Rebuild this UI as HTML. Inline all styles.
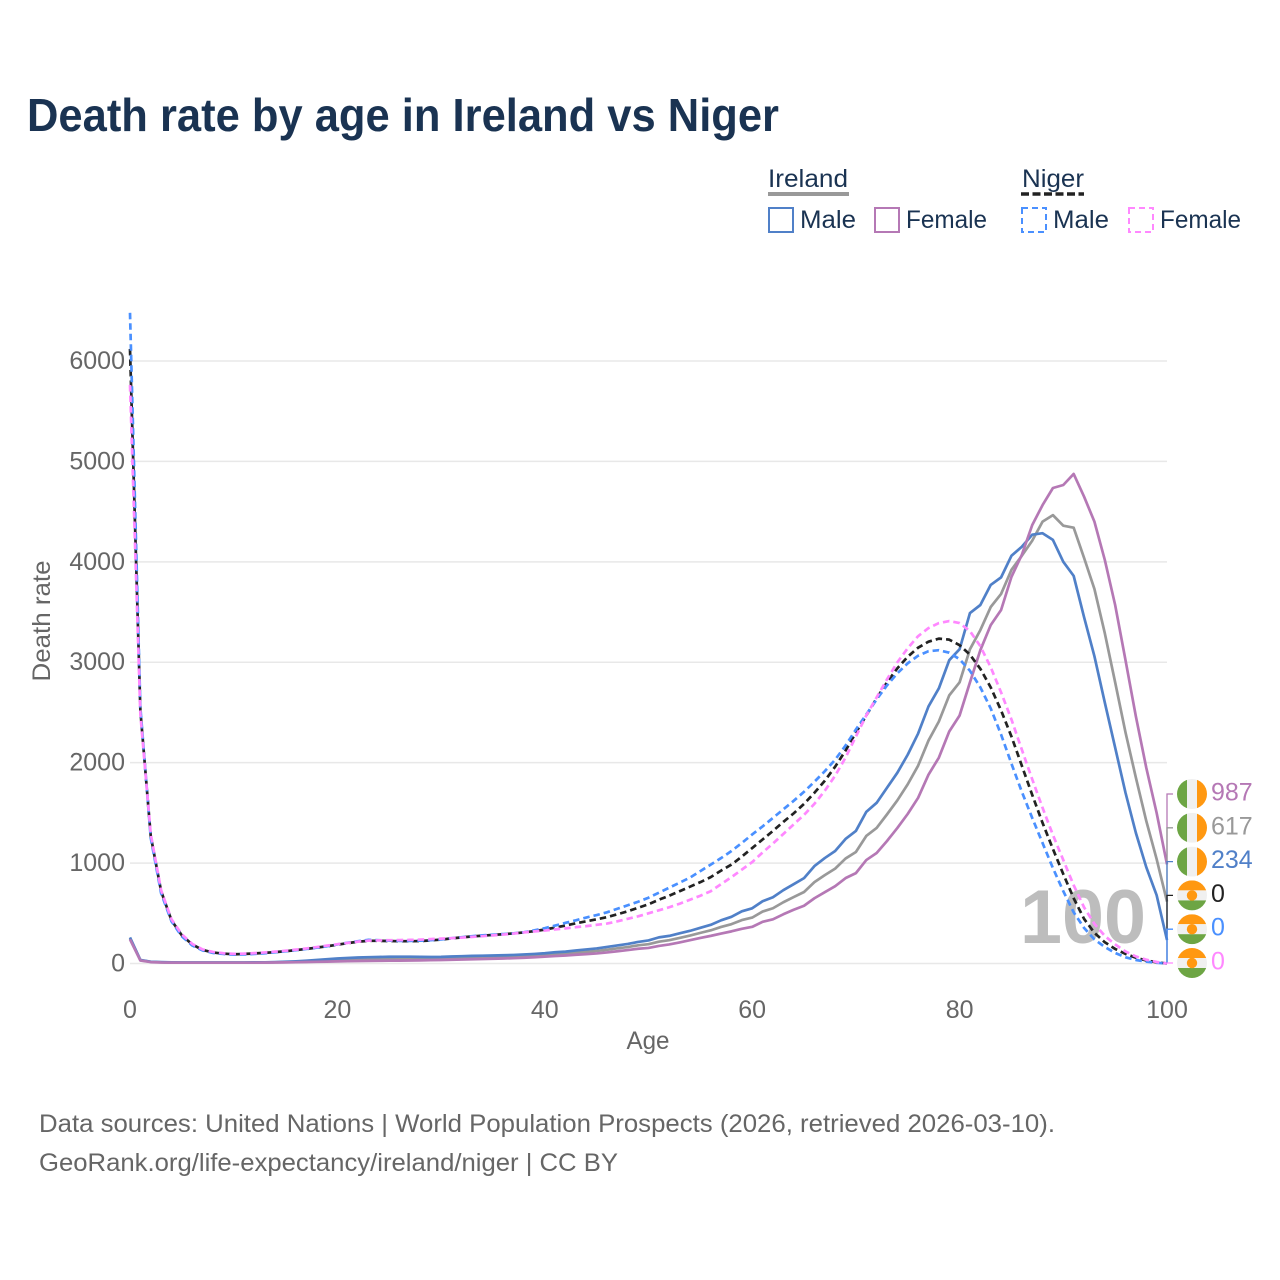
<!DOCTYPE html>
<html>
<head>
<meta charset="utf-8">
<title>Death rate by age in Ireland vs Niger</title>
<style>
html,body{margin:0;padding:0;background:#fff}
svg{display:block}
text{font-family:"Liberation Sans",sans-serif}
</style>
</head>
<body>
<svg id="chart" width="1280" height="1280" viewBox="0 0 1280 1280" xmlns="http://www.w3.org/2000/svg">
  <text x="27" y="131" font-size="46" font-weight="700" fill="#1a3352" textLength="752" lengthAdjust="spacingAndGlyphs">Death rate by age in Ireland vs Niger</text>

  <g font-size="25" fill="#1a3352">
    <text x="768" y="187" textLength="80" lengthAdjust="spacingAndGlyphs">Ireland</text>
    <rect x="768" y="192" width="81" height="4" fill="#999"/>
    <text x="1022" y="187" textLength="62" lengthAdjust="spacingAndGlyphs">Niger</text>
    <line x1="1021" x2="1084" y1="194" y2="194" stroke="#222" stroke-width="3.5" stroke-dasharray="8 3.5"/>

    <rect x="769" y="208" width="24" height="24" fill="none" stroke="#5080c8" stroke-width="2"/>
    <text x="800" y="228" textLength="56" lengthAdjust="spacingAndGlyphs">Male</text>
    <rect x="875" y="208" width="24" height="24" fill="none" stroke="#b578b5" stroke-width="2"/>
    <text x="906" y="228" textLength="81" lengthAdjust="spacingAndGlyphs">Female</text>
    <rect x="1022" y="208" width="24" height="24" fill="none" stroke="#4a90ff" stroke-width="2" stroke-dasharray="6 4"/>
    <text x="1053" y="228" textLength="56" lengthAdjust="spacingAndGlyphs">Male</text>
    <rect x="1129" y="208" width="24" height="24" fill="none" stroke="#ff88ff" stroke-width="2" stroke-dasharray="6 4"/>
    <text x="1160" y="228" textLength="81" lengthAdjust="spacingAndGlyphs">Female</text>
  </g>

  <g id="grid"></g>
  <text x="1020" y="943" font-size="76" font-weight="700" fill="#bdbdbd" textLength="126" lengthAdjust="spacingAndGlyphs">100</text>
  <g id="series"></g>
  <g id="xticks"></g>
  <g id="yticks"></g>
  <g id="ends"></g>

  <text x="648" y="1049" font-size="25" fill="#666" text-anchor="middle" textLength="43" lengthAdjust="spacingAndGlyphs">Age</text>
  <text transform="translate(50 621) rotate(-90)" font-size="25" fill="#666" text-anchor="middle" textLength="121" lengthAdjust="spacingAndGlyphs">Death rate</text>

  <text x="39" y="1132" font-size="25" fill="#666" textLength="1016" lengthAdjust="spacingAndGlyphs">Data sources: United Nations | World Population Prospects (2026, retrieved 2026-03-10).</text>
  <text x="39" y="1171" font-size="25" fill="#666" textLength="579" lengthAdjust="spacingAndGlyphs">GeoRank.org/life-expectancy/ireland/niger | CC BY</text>
</svg>
<script>
const xTickLabels = [0, 20, 40, 60, 80, 100];
const yTickLabels = [0, 1000, 2000, 3000, 4000, 5000, 6000];

const irelandAll = [250,33,16,12,10,9,9,9,9,9,9,9,10,10,12,14,17,21,26,30,35,39,42,44,46,47,48,49,48,49,50,53,56,59,61,63,66,69,73,78,85,93,99,108,116,125,137,151,164,181,192,217,232,255,278,305,330,364,392,432,457,517,550,610,662,712,810,880,945,1045,1110,1270,1350,1485,1625,1785,1970,2220,2410,2670,2800,3130,3320,3550,3680,3920,4060,4210,4400,4465,4360,4340,4040,3730,3290,2800,2300,1850,1420,1040,617];
const irelandMale = [260,35,18,14,11,10,10,10,10,10,10,10,11,12,14,18,22,28,35,42,50,55,60,63,65,67,68,68,66,65,66,70,73,76,78,80,82,85,90,95,102,112,118,130,140,150,165,180,195,215,230,260,275,300,325,355,385,430,465,520,550,620,660,730,790,850,970,1050,1120,1240,1320,1510,1600,1750,1900,2080,2290,2560,2740,3020,3130,3490,3570,3770,3845,4060,4150,4270,4285,4218,4000,3860,3450,3060,2600,2150,1700,1300,960,680,234];
const irelandFemale = [240,30,14,10,9,8,8,8,8,8,8,8,8,9,10,11,13,15,17,19,21,23,25,26,27,28,29,30,31,33,35,37,39,42,45,47,50,53,57,62,68,74,80,87,93,100,110,122,134,147,155,175,190,210,232,255,275,298,320,345,365,415,440,490,535,575,650,710,770,850,900,1030,1100,1220,1350,1490,1650,1880,2050,2310,2470,2800,3120,3370,3520,3850,4070,4365,4565,4735,4765,4875,4650,4400,4020,3570,3020,2460,1950,1500,987];
const nigerAll = [6120,2520,1270,720,430,280,190,135,110,98,92,95,100,106,113,122,133,145,158,172,187,203,217,226,226,224,222,222,224,230,238,250,260,270,277,285,292,300,310,322,338,358,378,400,420,440,462,490,520,555,590,635,675,720,765,810,860,925,985,1065,1150,1235,1320,1410,1495,1590,1700,1820,1960,2120,2300,2470,2640,2800,2940,3055,3145,3205,3235,3225,3170,3075,2935,2750,2520,2260,1970,1680,1400,1140,890,650,445,305,212,145,95,58,30,12,0];
const nigerMale = [6480,2550,1250,700,420,270,180,130,105,95,88,90,95,102,112,122,133,145,158,172,190,207,222,235,232,228,225,225,228,232,240,252,262,272,280,287,293,300,312,330,352,378,405,430,458,482,510,545,580,615,655,705,755,805,855,920,985,1050,1120,1200,1285,1365,1450,1535,1620,1710,1810,1915,2030,2170,2330,2480,2630,2770,2890,2990,3065,3110,3120,3095,3030,2915,2750,2540,2280,1990,1710,1450,1200,950,720,510,355,240,165,105,62,35,18,7,0];
const nigerFemale = [5760,2480,1290,730,440,290,195,140,115,102,96,98,103,110,118,127,138,150,164,178,192,205,218,228,230,232,233,235,238,243,248,252,258,265,272,280,288,298,310,320,328,340,350,362,372,385,398,420,445,470,500,530,560,595,635,675,720,790,860,935,1010,1105,1195,1290,1385,1480,1590,1720,1870,2050,2260,2470,2650,2830,3000,3140,3260,3340,3390,3410,3390,3310,3160,2950,2700,2430,2130,1835,1550,1280,1030,780,560,395,275,190,120,70,38,15,0];

const seriesNames = ['ireland-all', 'ireland-male', 'ireland-female', 'niger-all', 'niger-male', 'niger-female'];
const seriesData = [irelandAll, irelandMale, irelandFemale, nigerAll, nigerMale, nigerFemale];
const seriesColors = ['#999999', '#5080c8', '#b578b5', '#222222', '#4a90ff', '#ff88ff'];
const seriesDashed = [false, false, false, true, true, true];

const endOrderNames = ['ireland-female', 'ireland-all', 'ireland-male', 'niger-all', 'niger-male', 'niger-female'];
const endOrderFlags = ['ireland', 'ireland', 'ireland', 'niger', 'niger', 'niger'];

const SVGNS = 'http://www.w3.org/2000/svg';
const xScale = v => 130 + v * 10.37;
const yScale = v => 963.5 - v * 0.10042;

function make(tag, parent, attrs) {
  const el = document.createElementNS(SVGNS, tag);
  for (const k in attrs) el.setAttribute(k, attrs[k]);
  parent.appendChild(el);
  return el;
}

const gridG = document.getElementById('grid');
const yG = document.getElementById('yticks');
const xG = document.getElementById('xticks');
const seriesG = document.getElementById('series');
const endsG = document.getElementById('ends');

yTickLabels.forEach(v => {
  const line = make('line', gridG, {x1: 130, x2: 1167, y1: yScale(v), y2: yScale(v), stroke: '#e8e8e8', 'stroke-width': 1.5});
  
  
  const t = make('text', yG, {x: 125, y: yScale(v) + 8, 'font-size': 25, fill: '#666', 'text-anchor': 'end'});
  
  
  t.textContent = v;
});

xTickLabels.forEach(v => {
  const t = make('text', xG, {x: xScale(v), y: 1018, 'font-size': 25, fill: '#666', 'text-anchor': 'middle'});
  
  
  t.textContent = v;
});

seriesData.forEach((vals, i) => {
  const pts = vals.map((v, a) => xScale(a).toFixed(2) + ',' + yScale(v).toFixed(2)).join(' ');
  const attrs = {points: pts, fill: 'none', stroke: seriesColors[i], 'stroke-width': 2.7, 'stroke-linejoin': 'round'};
  if (seriesDashed[i]) attrs['stroke-dasharray'] = '6.5 4';
  const line = make('polyline', seriesG, attrs);
  
  
});

function drawFlag(parent, kind, cx, cy) {
  const r = 15;
  const id = 'clip' + Math.round(cy);
  const clip = make('clipPath', parent, {id: id});
  make('circle', clip, {cx: cx, cy: cy, r: r});
  const g = make('g', parent, {'clip-path': 'url(#' + id + ')'});
  
  
  if (kind === 'ireland') {
    make('rect', g, {x: cx - r, y: cy - r, width: 10, height: 30, fill: '#6da544'});
    make('rect', g, {x: cx - 5, y: cy - r, width: 10, height: 30, fill: '#f0f0f0'});
    make('rect', g, {x: cx + 5, y: cy - r, width: 10, height: 30, fill: '#ff9811'});
  } else {
    make('rect', g, {x: cx - r, y: cy - r, width: 30, height: 10, fill: '#ff9811'});
    make('rect', g, {x: cx - r, y: cy - 5, width: 30, height: 10, fill: '#f0f0f0'});
    make('rect', g, {x: cx - r, y: cy + 5, width: 30, height: 10, fill: '#6da544'});
    make('circle', g, {cx: cx, cy: cy, r: 5.2, fill: '#ff9811'});
  }
}

endOrderNames.forEach((name, i) => {
  const idx = seriesNames.indexOf(name);
  const vals = seriesData[idx];
  const last = vals[vals.length - 1];
  const color = seriesColors[idx];
  const rowY = 794 + i * 33.8;
  const conn = make('polyline', endsG, {points: '1167,' + yScale(last) + ' 1167,' + rowY + ' 1173,' + rowY, fill: 'none', stroke: color, 'stroke-width': 1.3});
  
  
  drawFlag(endsG, endOrderFlags[i], 1192, rowY);
  const t = make('text', endsG, {x: 1211, y: rowY + 6.5, 'font-size': 25, fill: color});
  
  
  t.textContent = last;
});
</script>
</body>
</html>
